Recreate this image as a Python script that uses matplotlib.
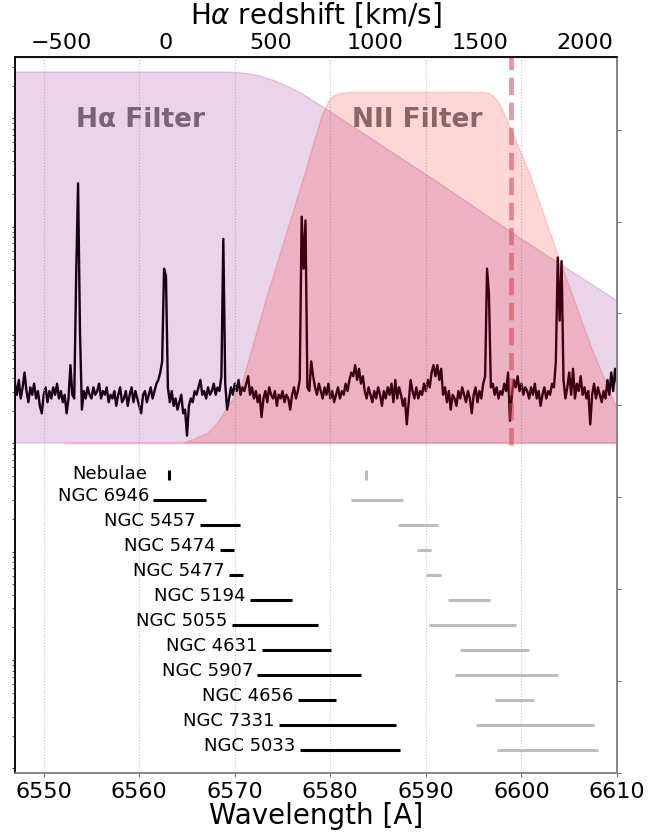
import numpy as np
import matplotlib.pyplot as plt

# rest wavelengths [A] and speed of light [km/s]
HA_REST = 6562.8
NII_REST = 6583.45
C_KMS = 299792.458

# filter transmission curves (wavelength [A], relative transmission)
ha_filter_wave = [6540.0, 6569.0, 6571.0, 6572.5, 6574.0, 6575.5, 6577.0,
                  6578.5, 6580.0, 6584.5, 6592.0, 6600.0, 6606.0, 6612.0]
ha_filter_trans = [1.0, 1.0, 0.997, 0.99, 0.978, 0.962, 0.942,
                   0.918, 0.893, 0.817, 0.69, 0.55, 0.45, 0.35]

nii_filter_wave = [6552.2, 6564.6, 6565.8, 6567.1, 6568.0, 6569.2, 6570.6,
                   6573.2, 6577.4, 6578.3, 6579.1, 6579.6, 6580.0, 6580.5,
                   6581.2, 6582.0, 6596.0, 6596.6, 6597.1, 6597.6, 6598.1,
                   6598.8, 6600.7, 6603.9, 6607.2, 6610.0, 6611.4]
nii_filter_trans = [0.0, 0.0, 0.013, 0.027, 0.05, 0.097, 0.151,
                    0.385, 0.736, 0.817, 0.884, 0.912, 0.930, 0.939,
                    0.944, 0.946, 0.946, 0.943, 0.934, 0.918, 0.893,
                    0.850, 0.736, 0.499, 0.264, 0.09, 0.0]

# spectrum, sampled every 0.2 A starting at 6547 A (scaled to the filter units)
spec_start = 6547.0
spec_step = 0.2
spec_flux = [
    0.16, 0.13, 0.17, 0.12, 0.15, 0.19, 0.14, 0.11, 0.15, 0.13,
    0.16, 0.12, 0.14, 0.10, 0.08, 0.13, 0.15, 0.11, 0.14, 0.12,
    0.15, 0.13, 0.16, 0.12, 0.14, 0.11, 0.13, 0.08, 0.12, 0.21,
    0.13, 0.12, 0.45, 0.70, 0.30, 0.09, 0.14, 0.12, 0.15, 0.13,
    0.12, 0.15, 0.13, 0.14, 0.16, 0.12, 0.14, 0.13, 0.15, 0.11,
    0.13, 0.12, 0.14, 0.10, 0.13, 0.15, 0.11, 0.12, 0.14, 0.10,
    0.13, 0.15, 0.11, 0.14, 0.12, 0.10, 0.08, 0.13, 0.14, 0.11,
    0.13, 0.15, 0.12, 0.14, 0.16, 0.17, 0.19, 0.22, 0.47, 0.45,
    0.15, 0.11, 0.14, 0.10, 0.12, 0.09, 0.11, 0.13, 0.08, 0.09,
    0.02, 0.10, 0.12, 0.11, 0.14, 0.13, 0.15, 0.17, 0.13, 0.14,
    0.12, 0.15, 0.13, 0.14, 0.16, 0.13, 0.15, 0.14, 0.18, 0.55,
    0.16, 0.09, 0.12, 0.15, 0.13, 0.16, 0.14, 0.17, 0.13, 0.15,
    0.14, 0.16, 0.18, 0.13, 0.15, 0.12, 0.14, 0.11, 0.13, 0.07,
    0.12, 0.14, 0.11, 0.15, 0.13, 0.12, 0.14, 0.10, 0.13, 0.12,
    0.14, 0.11, 0.13, 0.12, 0.09, 0.13, 0.15, 0.12, 0.14, 0.17,
    0.61, 0.47, 0.60, 0.15, 0.14, 0.22, 0.18, 0.15, 0.13, 0.16,
    0.14, 0.12, 0.15, 0.13, 0.16, 0.12, 0.14, 0.11, 0.13, 0.15,
    0.12, 0.14, 0.13, 0.16, 0.14, 0.17, 0.19, 0.18, 0.21, 0.17,
    0.20, 0.16, 0.18, 0.14, 0.12, 0.15, 0.13, 0.11, 0.14, 0.12,
    0.15, 0.13, 0.10, 0.14, 0.12, 0.15, 0.13, 0.16, 0.11, 0.17,
    0.12, 0.15, 0.13, 0.10, 0.12, 0.05, 0.11, 0.17, 0.14, 0.12,
    0.15, 0.12, 0.14, 0.13, 0.16, 0.14, 0.17, 0.15, 0.19, 0.21,
    0.18, 0.21, 0.17, 0.20, 0.13, 0.15, 0.11, 0.14, 0.09, 0.13,
    0.12, 0.10, 0.14, 0.12, 0.15, 0.13, 0.11, 0.14, 0.12, 0.08,
    0.13, 0.15, 0.11, 0.14, 0.12, 0.16, 0.18, 0.47, 0.40, 0.15,
    0.16, 0.13, 0.15, 0.12, 0.14, 0.13, 0.16, 0.14, 0.19, 0.06,
    0.13, 0.17, 0.15, 0.18, 0.14, 0.16, 0.13, 0.15, 0.14, 0.12,
    0.15, 0.13, 0.16, 0.12, 0.14, 0.10, 0.13, 0.15, 0.12, 0.14,
    0.13, 0.16, 0.15, 0.22, 0.50, 0.33, 0.49, 0.17, 0.12, 0.15,
    0.19, 0.13, 0.20, 0.12, 0.16, 0.14, 0.18, 0.13, 0.15, 0.12,
    0.14, 0.05, 0.13, 0.16, 0.12, 0.15, 0.13, 0.11, 0.14, 0.12,
    0.17, 0.13, 0.19, 0.14, 0.20, 0.16,
]

# velocity ranges [km/s] of the target galaxies
galaxy_names = ['NGC 6946', 'NGC 5457', 'NGC 5474', 'NGC 5477', 'NGC 5194',
                'NGC 5055', 'NGC 4631', 'NGC 5907', 'NGC 4656', 'NGC 7331',
                'NGC 5033']
v_low = [-60, 164, 257, 300, 402, 315, 459, 437, 630, 539, 639]
v_high = [190, 356, 324, 370, 603, 729, 788, 930, 815, 1101, 1119]
nebulae_v = 15

# red edge of the usable band [A]
cut_wave = 6598.9


def shifted(rest, v):
    return rest * (1 + np.asarray(v, dtype=float) / C_KMS)


def wave_to_vel(w):
    return (np.asarray(w) / HA_REST - 1) * C_KMS


def vel_to_wave(v):
    return HA_REST * (1 + np.asarray(v) / C_KMS)


fig = plt.figure(figsize=(6.65, 8.33), dpi=100)
ax = fig.add_axes([15 / 665, 1 - 773 / 833, 602 / 665, 716 / 833])

wave = spec_start + spec_step * np.arange(len(spec_flux))
ax.plot(wave, spec_flux, color='black', lw=1.7, zorder=1.5)

ax.fill_between(ha_filter_wave, 0, ha_filter_trans, color='purple',
                alpha=0.17, lw=1, zorder=2)
ax.fill_between(nii_filter_wave, 0, nii_filter_trans, color='red',
                alpha=0.16, lw=1, zorder=2)

ax.text(6560.1, 0.871, 'Hα Filter', ha='center', va='center', fontsize=19,
        fontweight='bold', color='#7a6478', zorder=3)
ax.text(6589.1, 0.871, 'NII Filter', ha='center', va='center', fontsize=19,
        fontweight='bold', color='#8c6466', zorder=3)

ax.vlines(cut_wave, -0.005, 1.1, colors='#d6404f', alpha=0.55, lw=3.4,
          linestyles='--', zorder=4)

# velocity coverage of each target: H-alpha in black, [NII] in gray
row0 = -0.086
row_step = 25 / 371
ax.plot(shifted(HA_REST, nebulae_v), row0, marker='|', ms=7, mew=2.2,
        color='black', ls='none')
ax.plot(shifted(NII_REST, nebulae_v), row0, marker='|', ms=7, mew=2.2,
        color='#bdbdbd', ls='none')
ax.annotate('Nebulae', (shifted(HA_REST, nebulae_v), row0),
            xytext=(-16, -3), textcoords='offset points',
            ha='right', va='baseline', fontsize=13)

for i, name in enumerate(galaxy_names):
    y = row0 - row_step * (i + 1)
    ha_lo, ha_hi = shifted(HA_REST, [v_low[i], v_high[i]])
    n_lo, n_hi = shifted(NII_REST, [v_low[i], v_high[i]])
    ax.hlines(y, ha_lo, ha_hi, colors='black', lw=2.2)
    ax.hlines(y, n_lo, n_hi, colors='#bdbdbd', lw=2.2)
    ax.annotate(name, (ha_lo, y), xytext=(-3, -1), textcoords='offset points',
                ha='right', va='baseline', fontsize=13)

ax.set_xlim(6547, 6610)
ax.set_ylim((443 - 773) / 371, (443 - 57) / 371)
ax.set_xticks(np.arange(6550, 6611, 10))
ax.set_yticks([])
ax.grid(axis='x', color='#c8c8c8', ls=':', lw=0.8)
ax.tick_params(axis='x', labelsize=16, direction='out', length=3,
               color='#777777')
ax.set_xlabel('Wavelength [A]', fontsize=20, labelpad=0)

# right-hand linear ticks
ax_r = ax.twinx()
ax_r.set_ylim(0, 7.79)
ax_r.set_yticks(range(8))
ax_r.tick_params(axis='y', labelright=False, length=3, color='#777777')

# left-hand log ticks
ax_l = ax.twinx()
ax_l.yaxis.tick_left()
ax_l.set_yscale('log')
ax_l.set_ylim(10 ** -0.043, 10 ** 6.566)
ax_l.tick_params(axis='y', which='both', labelleft=False, length=2.5,
                 color='#333333')
ax_l.tick_params(axis='y', which='minor', length=2)

for a in (ax, ax_r, ax_l):
    a.spines['left'].set_color('#111111')
    a.spines['top'].set_color('#111111')
    a.spines['right'].set_color('#888888')
    a.spines['bottom'].set_color('#888888')
    for s in a.spines.values():
        s.set_linewidth(1.2)

top = ax.secondary_xaxis('top', functions=(wave_to_vel, vel_to_wave))
top.set_xticks([-500, 0, 500, 1000, 1500, 2000])
top.tick_params(labelsize=16, length=0, pad=3)
top.set_xlabel(r'H$\alpha$ redshift [km/s]', fontsize=20, labelpad=6)
top.spines['top'].set_color('#111111')

fig.savefig('out.png', dpi=100)
